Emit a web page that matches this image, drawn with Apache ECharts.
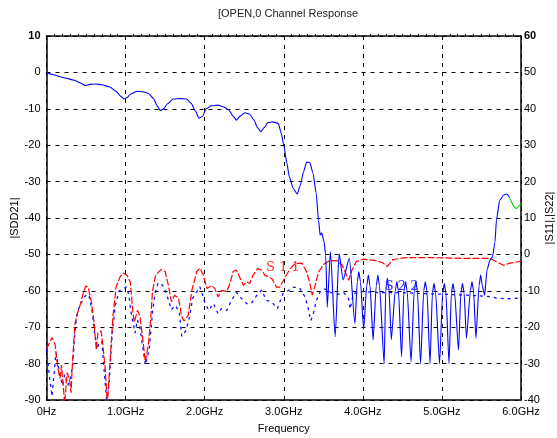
<!DOCTYPE html>
<html>
<head>
<meta charset="utf-8">
<script src="https://cdn.jsdelivr.net/npm/echarts@6/dist/echarts.min.js"></script>
<style>html,body{margin:0;padding:0;background:#fff}#c{width:557px;height:438px}</style>
</head>
<body>
<div id="c"></div>
<script>
// ---- data (frequency in GHz) ----
const titleText = '[OPEN,0 Channel Response';
const xTickValues = [0, 1, 2, 3, 4, 5, 6];
const xTickLabels = ['0Hz', '1.0GHz', '2.0GHz', '3.0GHz', '4.0GHz', '5.0GHz', '6.0GHz'];

// |SDD21| (left axis, dB)
const sddFreq = [0.00,0.10,0.17,0.25,0.34,0.42,0.49,0.55,0.62,0.70,0.80,0.88,0.94,0.98,1.02,1.06,1.14,1.22,1.29,1.35,1.40,1.44,1.48,1.53,1.60,1.70,1.77,1.83,1.88,1.93,1.97,2.02,2.08,2.17,2.24,2.30,2.36,2.40,2.45,2.51,2.57,2.62,2.67,2.71,2.75,2.80,2.86,2.93,2.97,3.00,3.04,3.07,3.12,3.17,3.21,3.25,3.29,3.33,3.37,3.41,3.44,3.46,3.48,3.51,3.53,3.55,3.59,3.65,3.70,3.75,3.83,3.90,
  3.93,3.95,3.97,4.01,4.05,4.07,4.09,4.13,4.17,4.19,4.21,4.27,4.29,4.31,4.33,4.36,4.41,4.43,4.45,4.49,4.52,4.54,4.56,4.61,4.65,4.67,4.69,4.73,4.77,4.79,4.81,4.85,4.88,4.90,4.92,4.97,5.01,5.03,5.05,5.09,5.12,5.14,5.16,5.21,5.24,5.26,5.28,5.31,5.36,5.38,5.40,5.43,5.47,5.49,5.51,5.54,5.57,5.61,5.64,5.67,5.69,5.73,5.78,5.82,5.85];
const sddVal  = [-0.1,-0.7,-1.2,-1.6,-2.1,-2.8,-3.6,-3.3,-3.2,-3.4,-4.0,-5.2,-6.6,-7.3,-6.9,-6.0,-5.2,-5.3,-5.8,-7.1,-9.2,-10.5,-10.0,-8.6,-7.3,-7.2,-7.3,-8.5,-10.5,-12.6,-12.1,-10.0,-9.2,-9.0,-9.5,-10.2,-12.0,-13.1,-12.0,-11.1,-11.5,-13.0,-15.2,-16.3,-15.2,-13.8,-13.6,-14.0,-16.8,-20.0,-25.0,-28.7,-31.9,-33.4,-31.0,-27.3,-24.6,-24.8,-27.7,-33.2,-40.6,-44.7,-44.1,-46.5,-50.2,-64.5,-49.2,-72.6,-49.8,-57.0,-51.1,-69.0,
  -57.5,-54.8,-57.5,-70.6,-58.5,-55.7,-58.5,-73.5,-58.5,-55.7,-58.5,-80,-59.5,-56.6,-59.5,-73.4,-60,-57.5,-60,-78.1,-60,-57.5,-60,-79.5,-60,-57.5,-60,-80,-60,-57.5,-60,-80,-60.5,-58,-60.5,-80,-60.5,-58,-60.5,-80,-60.5,-58,-60.5,-76.3,-60.5,-58,-60.5,-73,-60,-57.5,-60,-73,-58.5,-55.7,-58.5,-61.2,-54.3,-51.5,-50.6,-46.8,-40.5,-35.2,-33.7,-33.4,-34.2];
// |SDD21| end segment (green)
const tailFreq = [5.85,5.88,5.91,5.94,5.96,5.99,6.00];
const tailVal  = [-34.2,-35.6,-36.8,-37.4,-37.1,-36.3,-36.0];

// |S11| (right axis, dB)
const s11Freq = [0.00,0.02,0.07,0.11,0.14,0.17,0.19,0.23,0.26,0.29,0.31,0.33,0.36,0.39,0.42,0.47,0.50,0.53,0.57,0.60,0.63,0.65,0.69,0.71,0.74,0.77,0.80,0.84,0.88,0.93,0.97,1.02,1.06,1.09,1.11,1.15,1.18,1.22,1.25,1.29,1.32,1.34,1.38,1.45,1.50,1.54,1.58,1.62,1.67,1.71,1.74,1.79,1.84,1.90,1.94,1.98,2.03,2.09,2.13,2.17,2.21,2.28,2.32,2.36,2.40,2.45,2.49,2.53,2.57,2.61,2.67,2.72,2.76,2.85,2.91,2.95,3.02,3.08,3.14,3.23,3.29,3.33,3.36,3.39,3.44,3.50,3.58,3.67,3.74,3.78,3.82,3.86,3.92,4.01,4.17,4.25,4.31,4.38,4.55,4.89,5.31,5.61,5.69,5.78,5.86,6.00];
const s11Val  = [-26.0,-25.8,-22.8,-24.9,-30.9,-34,-30.5,-41,-32.5,-34.3,-38,-29.1,-19.0,-16.3,-14.3,-10.2,-8.6,-9.3,-13.4,-18.4,-26.2,-21.6,-21.0,-24.4,-30.8,-41,-30.8,-17.1,-8.9,-6.2,-5.1,-5.8,-7.6,-15.4,-18.6,-15.4,-16.8,-23.7,-29.6,-24.4,-17.1,-10.2,-5.7,-4.1,-4.7,-8.4,-13.0,-11.2,-12.1,-17.1,-18.3,-16.8,-9.7,-4.7,-3.8,-5.5,-9.4,-8.5,-9.4,-11.7,-9.9,-10.2,-8.0,-4.7,-4.3,-6.6,-8.5,-7.5,-8.0,-5.8,-3.9,-4.3,-5.7,-6.7,-9.0,-9.0,-6.2,-4.0,-2.6,-2.4,-4.8,-8.0,-11.2,-9.0,-4.9,-2.8,-1.7,-1.7,-3.0,-5.0,-7.1,-4.4,-1.9,-1.3,-1.7,-2.3,-3.3,-1.4,-0.9,-0.9,-1.1,-1.1,-2.0,-3.0,-2.4,-1.9];

// |S22| (right axis, dB)
const s22Freq = [0.00,0.04,0.07,0.12,0.16,0.20,0.23,0.27,0.30,0.33,0.35,0.38,0.42,0.47,0.51,0.54,0.58,0.61,0.64,0.67,0.70,0.73,0.76,0.79,0.83,0.87,0.92,0.97,1.01,1.04,1.07,1.12,1.15,1.18,1.22,1.25,1.30,1.34,1.37,1.41,1.47,1.52,1.58,1.63,1.68,1.71,1.76,1.80,1.85,1.94,2.00,2.05,2.11,2.17,2.21,2.28,2.34,2.40,2.47,2.53,2.59,2.66,2.72,2.78,2.85,2.92,2.99,3.06,3.12,3.20,3.27,3.31,3.34,3.37,3.41,3.46,3.52,3.60,3.68,3.76,3.82,3.84,3.88,3.98,4.20,4.50,4.80,5.10,5.40,5.61,5.69,5.82,6.00];
const s22Val  = [-26,-34,-39,-27,-32,-36,-33,-36,-34,-31,-24,-17,-14,-12,-10.9,-11.5,-16,-22,-26,-24,-24,-32,-40,-36,-22,-14,-10,-9.5,-8.9,-11,-16,-21.6,-18,-20,-26,-30.4,-26,-16,-11,-7.8,-8.5,-11,-15.2,-14,-16,-22.5,-21,-18,-12,-8.9,-13.1,-15.4,-13.5,-16.3,-14.9,-15.4,-12.6,-10.4,-12.2,-13.5,-13.5,-11.2,-9.8,-12.6,-13.1,-14.9,-10.8,-9.9,-9.0,-9.2,-11.7,-14.9,-18.2,-16.7,-12.9,-10.2,-9.5,-10.5,-11,-10.5,-12.2,-15,-10.8,-10.2,-10.5,-10.5,-10.8,-11,-11.3,-11.6,-12,-12.2,-12];

// in-plot curve labels [freq, right-axis dB]
const s11LabelText = 'S 1 1';
const s11LabelPos = [2.99, -3.5];
const s22LabelText = 'S 2 2';
const s22LabelPos = [4.49, -8.8];

const pairs = (xs, ys) => xs.map((x, i) => [x, ys[i]]);

const FONT = 'Liberation Sans, Arial, sans-serif';
const chart = echarts.init(document.getElementById('c'), null, {renderer: 'canvas'});
const boldTop = (top) => (v) => (v === top ? '{b|' + v + '}' : String(v));
const gridDash = {type: [4, 5], color: '#000', width: 1};

chart.setOption({
  animation: false,
  backgroundColor: '#fff',
  title: {
    text: titleText, left: 283, top: 3, textAlign: 'center',
    textStyle: {fontFamily: FONT, fontSize: 11, fontWeight: 'normal', color: '#222'}
  },
  grid: {left: 46.5, right: 36, top: 36, bottom: 38, containLabel: false, outerBoundsMode: 'none'},
  xAxis: [{
    type: 'value', min: 0, max: 6, interval: 1, position: 'bottom',
    name: 'Frequency', nameLocation: 'middle', nameGap: 23, nameMoveOverlap: false,
    nameTextStyle: {fontFamily: FONT, fontSize: 11, color: '#000'},
    axisLine: {show: true, onZero: false, lineStyle: {color: '#000', width: 1.5}},
    axisTick: {show: false},
    axisLabel: {fontFamily: FONT, fontSize: 11, color: '#000', margin: 6,
      formatter: (v) => xTickLabels[xTickValues.indexOf(v)]},
    splitLine: {show: true, lineStyle: gridDash}
  }, {
    type: 'value', min: 0, max: 6, interval: 1, position: 'top',
    axisLine: {show: true, onZero: false, lineStyle: {color: '#000', width: 1.5}},
    axisTick: {show: false},
    minorTick: {show: true, splitNumber: 10, length: 2, lineStyle: {color: '#000'}},
    axisLabel: {show: false}, splitLine: {show: false}
  }],
  yAxis: [{
    type: 'value', min: -90, max: 10, interval: 10, position: 'left',
    name: '|SDD21|', nameLocation: 'middle', nameGap: 26, nameRotate: 90, nameMoveOverlap: false,
    nameTextStyle: {fontFamily: FONT, fontSize: 11, color: '#000'},
    axisLine: {show: true, onZero: false, lineStyle: {color: '#000', width: 1.5}},
    axisTick: {show: false},
    axisLabel: {fontFamily: FONT, fontSize: 11, color: '#000', margin: 6,
      formatter: boldTop(10), rich: {b: {fontFamily: FONT, fontSize: 11, fontWeight: 'bold', color: '#000'}}},
    splitLine: {show: true, lineStyle: gridDash}
  }, {
    type: 'value', min: -40, max: 60, interval: 10, position: 'right',
    name: '|S11|,|S22|', nameLocation: 'middle', nameGap: 23, nameRotate: 90, nameMoveOverlap: false,
    nameTextStyle: {fontFamily: FONT, fontSize: 11, color: '#000'},
    axisLine: {show: true, onZero: false, lineStyle: {color: '#000', width: 1.5}},
    axisTick: {show: false},
    axisLabel: {fontFamily: FONT, fontSize: 11, color: '#000', margin: 3,
      formatter: boldTop(60), rich: {b: {fontFamily: FONT, fontSize: 11, fontWeight: 'bold', color: '#000'}}},
    splitLine: {show: false}
  }],
  series: [{
    name: '|S22|', type: 'line', xAxisIndex: 0, yAxisIndex: 1, showSymbol: false, clip: true,
    data: pairs(s22Freq, s22Val),
    lineStyle: {color: '#1010ff', width: 1.3, type: [3, 4]},
    markPoint: {symbol: 'circle', symbolSize: 0, silent: true,
      data: [{coord: s22LabelPos}],
      label: {show: true, position: 'inside', formatter: s22LabelText,
        fontFamily: 'DejaVu Serif, serif', fontSize: 13, color: '#3030ff'}}
  }, {
    name: '|S11|', type: 'line', xAxisIndex: 0, yAxisIndex: 1, showSymbol: false, clip: true,
    data: pairs(s11Freq, s11Val),
    lineStyle: {color: '#ff0000', width: 1.2, type: [7, 2]},
    markPoint: {symbol: 'circle', symbolSize: 0, silent: true,
      data: [{coord: s11LabelPos}],
      label: {show: true, position: 'inside', formatter: s11LabelText,
        fontFamily: 'DejaVu Serif, serif', fontSize: 13, color: '#ff3030'}}
  }, {
    name: '|SDD21|', type: 'line', xAxisIndex: 0, yAxisIndex: 0, showSymbol: false, clip: true,
    data: pairs(sddFreq, sddVal), smooth: 0.2, smoothMonotone: 'x',
    lineStyle: {color: '#0000ff', width: 1.1}
  }, {
    name: '|SDD21| end', type: 'line', xAxisIndex: 0, yAxisIndex: 0, showSymbol: false, clip: true,
    data: pairs(tailFreq, tailVal), smooth: 0.3,
    lineStyle: {color: '#00cc00', width: 1.1}
  }]
});
</script>
</body>
</html>
